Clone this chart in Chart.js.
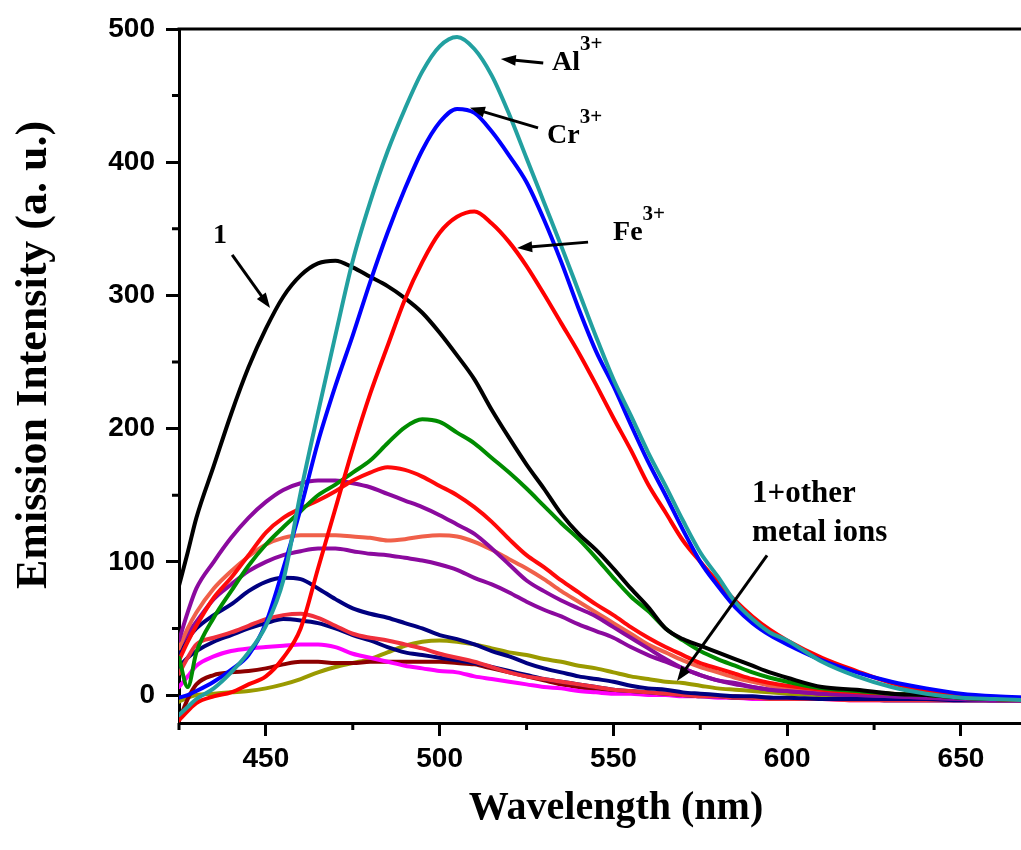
<!DOCTYPE html>
<html>
<head>
<meta charset="utf-8">
<title>Emission spectra</title>
<script src="https://cdn.jsdelivr.net/npm/chart.js@4.4.0/dist/chart.umd.min.js"></script>
<style>
  html, body { margin: 0; padding: 0; background: #fff; overflow: hidden; }
  #wrap { width: 1100px; height: 850px; }
</style>
</head>
<body>
<div id="wrap"><canvas id="spectra" width="1100" height="850"></canvas></div>
<script>
// wavelength grid (nm), shared by every spectrum
const wavelengths = [425, 427.5, 430,
  435, 440, 445, 450, 455, 460, 465, 470, 475, 480,
  485, 490, 495, 500, 505, 510, 515, 520, 525, 530,
  535, 540, 545, 550, 555, 560, 565, 570, 575, 580,
  585, 590, 595, 600,
  610, 620, 630, 640, 650, 660, 670, 680, 690];

// emission intensity (a. u.)
const free1 = [82, 107, 133,
  172, 211, 246, 275, 299, 315, 324, 326, 321, 314,
  307, 298, 287, 272, 255, 237, 214, 193, 173, 155,
  136, 121, 109, 95, 80, 66, 50, 42, 37, 32,
  27, 22, 17, 13,
  6, 4, 1, 0, -2, -3, -4, -4, -4];
const withAl = [-15, -9, -3,
  5, 17, 32, 52, 86, 152, 212, 270, 326, 370,
  408, 440, 468, 487, 494, 485, 465, 436, 403, 370,
  337, 303, 269, 237, 210, 182, 157, 131, 107, 89,
  70, 57, 47, 41,
  25, 14, 6, 1, -2, -3, -4, -4, -4];
const withCr = [-2, 0, 3,
  10, 19, 30, 54, 95, 140, 190, 232, 270, 310,
  347, 380, 409, 430, 440, 437, 423, 405, 385, 357,
  325, 290, 258, 232, 203, 175, 150, 124, 100, 82,
  66, 54, 45, 38,
  26, 17, 10, 5, 1, -1, -2, -3, -3];
const withFe = [-19, -12, -6,
  -1, 2, 8, 14, 28, 50, 95, 140, 185, 226,
  262, 297, 325, 347, 359, 363, 354, 340, 322, 301,
  279, 257, 233, 208, 184, 158, 137, 116, 100, 85,
  71, 59, 49, 41,
  28, 18, 9, 3, -1, -3, -4, -4, -4];
const otherGreen = [28, 6, 32,
  58, 78, 97, 113, 126, 138, 150, 158, 167, 176,
  189, 201, 207, 205, 197, 189, 178, 167, 155, 142,
  129, 117, 103, 88, 74, 63, 50, 41, 33, 27,
  22, 17, 13, 10,
  5, 3, 1, 0, -2, -3, -4, -4, -4];
const otherRed = [26, 40, 52,
  73, 88, 105, 122, 133, 140, 146, 153, 161, 167,
  171, 169, 164, 157, 150, 141, 130, 117, 105, 96,
  86, 77, 68, 60, 51, 43, 36, 30, 24, 20,
  16, 12, 9, 7,
  4, 2, 1, 0, -2, -3, -4, -4, -4];
const otherPurple = [41, 62, 80,
  100, 118, 133, 145, 154, 159, 161, 161, 159, 156,
  151, 146, 141, 135, 128, 121, 110, 98, 86, 78,
  71, 65, 59, 51, 43, 35, 27, 20, 15, 11,
  9, 6, 4, 3,
  1, 0, -1, -2, -3, -4, -4, -4, -4];
const otherCoral = [35, 50, 62,
  80, 93, 104, 113, 118, 120, 120, 120, 119, 118,
  116, 117, 119, 120, 119, 115, 109, 102, 95, 87,
  78, 70, 62, 54, 46, 38, 32, 26, 21, 17,
  13, 10, 7, 5,
  2, 1, 0, -1, -2, -3, -4, -4, -4];
const otherViolet = [36, 46, 55,
  72, 83, 93, 100, 105, 108, 110, 110, 108, 106,
  105, 103, 101, 98, 94, 88, 83, 77, 70, 64,
  59, 53, 48, 43, 36, 30, 25, 20, 15, 11,
  8, 6, 4, 3,
  1, 0, -1, -2, -3, -4, -4, -4, -4];
const otherNavy = [31, 42, 50,
  60, 68, 78, 85, 88, 87, 80, 72, 65, 61,
  58, 54, 50, 45, 42, 38, 33, 29, 24, 20,
  17, 14, 12, 10, 7, 5, 4, 2, 1, 0,
  -1, -1, -2, -2,
  -3, -3, -3, -3, -4, -4, -4, -4, -4];
const otherCrimson = [16, 28, 38,
  43, 47, 52, 57, 60, 61, 58, 52, 46, 43,
  41, 38, 35, 31, 28, 25, 21, 17, 14, 12,
  10, 8, 6, 4, 3, 2, 1, 0, -1, -1,
  -2, -2, -3, -3,
  -3, -4, -4, -4, -4, -4, -4, -4, -4];
const otherDarkBlue = [21, 28, 33,
  40, 45, 50, 54, 57, 56, 54, 50, 45, 41,
  36, 32, 30, 28, 26, 24, 21, 18, 15, 12,
  10, 8, 6, 4, 3, 2, 1, 0, -1, -1,
  -2, -2, -2, -3,
  -3, -3, -4, -4, -4, -4, -4, -4, -4];
const otherMagenta = [6, 14, 22,
  29, 33, 35, 36, 37, 38, 38, 36, 31, 28,
  25, 22, 20, 18, 17, 14, 12, 10, 8, 6,
  5, 3, 2, 1, 1, 0, 0, -1, -1, -2,
  -2, -3, -3, -3,
  -3, -4, -4, -4, -4, -4, -4, -4, -4];
const otherMaroon = [-19, -3, 8,
  15, 17, 18, 20, 23, 25, 25, 24, 24, 25,
  25, 25, 25, 25, 24, 23, 20, 17, 14, 11,
  8, 6, 4, 3, 2, 1, 1, 0, 0, -1,
  -1, -2, -2, -3,
  -3, -3, -4, -4, -4, -4, -4, -4, -4];
const otherOlive = [-5, -2, 0,
  1, 2, 3, 5, 8, 12, 17, 21, 24, 27,
  32, 37, 40, 41, 40, 38, 35, 32, 30, 27,
  25, 22, 20, 17, 14, 12, 10, 9, 7, 5,
  4, 3, 2, 1,
  0, -1, -2, -3, -3, -4, -4, -4, -4];

// axis ticks
const xMajor = [450, 500, 550, 600, 650];
const xMinor = [425, 475, 525, 575, 625, 675];
const yMajor = [0, 100, 200, 300, 400, 500];
const yMinor = [50, 150, 250, 350, 450];

// first entry is drawn on top
const series = [
  { data: withAl, color: '#22a0a0' },
  { data: withCr, color: '#0000ff' },
  { data: withFe, color: '#ff0000' },
  { data: free1, color: '#000000' },
  { data: otherGreen, color: '#008c00' },
  { data: otherRed, color: '#ff0a0a' },
  { data: otherPurple, color: '#8b0a9e' },
  { data: otherCoral, color: '#f0604a' },
  { data: otherViolet, color: '#8b0a9e' },
  { data: otherNavy, color: '#000080' },
  { data: otherCrimson, color: '#f0303c' },
  { data: otherDarkBlue, color: '#00007a' },
  { data: otherMagenta, color: '#ff00ff' },
  { data: otherMaroon, color: '#8c0000' },
  { data: otherOlive, color: '#9a9a00' },
];

// callouts: label anchor and arrow (from -> to), in data units
const callouts = [
  { text: 'Al', sup: '3+', size: 28, at: [532.3, 469], from: [529.8, 474.5], to: [517.6, 477.5] },
  { text: 'Cr', sup: '3+', size: 28, at: [530.9, 414.5], from: [528.3, 425.8], to: [508.7, 440.9] },
  { text: 'Fe', sup: '3+', size: 28, at: [549.9, 341.6], from: [542.7, 340], to: [522.3, 335.6] },
  { text: '1', sup: '', size: 28, at: [434.8, 339], from: [440.3, 330.4], to: [451.2, 290.6] },
  { text: '1+other', sup: '', size: 31, at: [589.9, 145], from: [594.2, 104.8], to: [568.3, 10.5] },
  { text: 'metal ions', sup: '', size: 31, at: [589.9, 116], from: null, to: null },
];

const SERIF = '"Liberation Serif", "Times New Roman", serif';
const SANS = '"Liberation Sans", Arial, sans-serif';

function drawArrow(ctx, x1, y1, x2, y2) {
  const ang = Math.atan2(y2 - y1, x2 - x1);
  const len = 15, half = 5.5;
  ctx.beginPath();
  ctx.moveTo(x1, y1);
  ctx.lineTo(x2 - Math.cos(ang) * len * 0.8, y2 - Math.sin(ang) * len * 0.8);
  ctx.stroke();
  ctx.beginPath();
  ctx.moveTo(x2, y2);
  ctx.lineTo(x2 - Math.cos(ang) * len + Math.sin(ang) * half, y2 - Math.sin(ang) * len - Math.cos(ang) * half);
  ctx.lineTo(x2 - Math.cos(ang) * len - Math.sin(ang) * half, y2 - Math.sin(ang) * len + Math.cos(ang) * half);
  ctx.closePath();
  ctx.fill();
}

const frameAndNotes = {
  id: 'frameAndNotes',
  afterDraw(chart) {
    const { ctx, chartArea: a, scales: { x, y } } = chart;
    ctx.save();
    ctx.strokeStyle = '#000';
    ctx.fillStyle = '#000';
    ctx.lineWidth = 3;

    // top / right frame
    ctx.beginPath();
    ctx.moveTo(a.left - 1.5, a.top);
    ctx.lineTo(a.right - 1.5, a.top);
    ctx.lineTo(a.right - 1.5, a.bottom);
    ctx.stroke();

    // minor ticks
    ctx.beginPath();
    xMinor.forEach(v => {
      const px = x.getPixelForValue(v);
      ctx.moveTo(px, a.bottom);
      ctx.lineTo(px, a.bottom + 7);
    });
    yMinor.forEach(v => {
      const py = y.getPixelForValue(v);
      ctx.moveTo(a.left, py);
      ctx.lineTo(a.left - 7, py);
    });
    ctx.stroke();

    // axis titles
    ctx.textAlign = 'center';
    ctx.textBaseline = 'alphabetic';
    ctx.font = 'bold 40px ' + SERIF;
    ctx.fillText('Wavelength (nm)', 616, 819);
    ctx.save();
    ctx.translate(46, 355);
    ctx.rotate(-Math.PI / 2);
    ctx.font = 'bold 44px ' + SERIF;
    ctx.fillText('Emission Intensity (a. u.)', 0, 0);
    ctx.restore();

    // callouts
    ctx.textAlign = 'left';
    ctx.lineWidth = 3;
    callouts.forEach(c => {
      const tx = x.getPixelForValue(c.at[0]);
      const ty = y.getPixelForValue(c.at[1]);
      ctx.font = 'bold ' + c.size + 'px ' + SERIF;
      ctx.fillText(c.text, tx, ty);
      if (c.sup) {
        const w = ctx.measureText(c.text).width;
        ctx.font = 'bold 21px ' + SERIF;
        ctx.fillText(c.sup, tx + w, ty - 20);
      }
      if (c.from) {
        drawArrow(ctx, x.getPixelForValue(c.from[0]), y.getPixelForValue(c.from[1]),
          x.getPixelForValue(c.to[0]), y.getPixelForValue(c.to[1]));
      }
    });
    ctx.restore();
  }
};

const axisStyle = {
  grid: { drawOnChartArea: false, tickLength: 13, tickWidth: 3, tickColor: '#000' },
  border: { color: '#000', width: 3 },
};

new Chart(document.getElementById('spectra'), {
  type: 'line',
  data: {
    labels: wavelengths,
    datasets: series.map(s => ({
      data: s.data.map((v, i) => ({ x: wavelengths[i], y: v })),
      borderColor: s.color,
      backgroundColor: s.color,
    })),
  },
  options: {
    responsive: false,
    animation: false,
    events: [],
    layout: { padding: { top: 29, left: 0, right: 0, bottom: 0 } },
    plugins: { legend: { display: false }, tooltip: { enabled: false } },
    elements: {
      point: { radius: 0 },
      line: { borderWidth: 4, tension: 0.4, cubicInterpolationMode: 'monotone', borderJoinStyle: 'round', borderCapStyle: 'round' },
    },
    scales: {
      x: {
        type: 'linear', min: 425, max: 690,
        ...axisStyle,
        afterFit: s => { s.height = 127; },
        afterBuildTicks: s => { s.ticks = xMajor.map(v => ({ value: v })); },
        ticks: { color: '#000', padding: 6, autoSkip: false, maxRotation: 0, font: { family: SANS, size: 28, weight: 'bold' } },
      },
      y: {
        type: 'linear', min: -21, max: 500,
        ...axisStyle,
        afterFit: s => { s.width = 179; },
        afterBuildTicks: s => { s.ticks = yMajor.map(v => ({ value: v })); },
        ticks: { color: '#000', padding: 11, font: { family: SANS, size: 28, weight: 'bold' } },
      },
    },
  },
  plugins: [frameAndNotes],
});
</script>
</body>
</html>
